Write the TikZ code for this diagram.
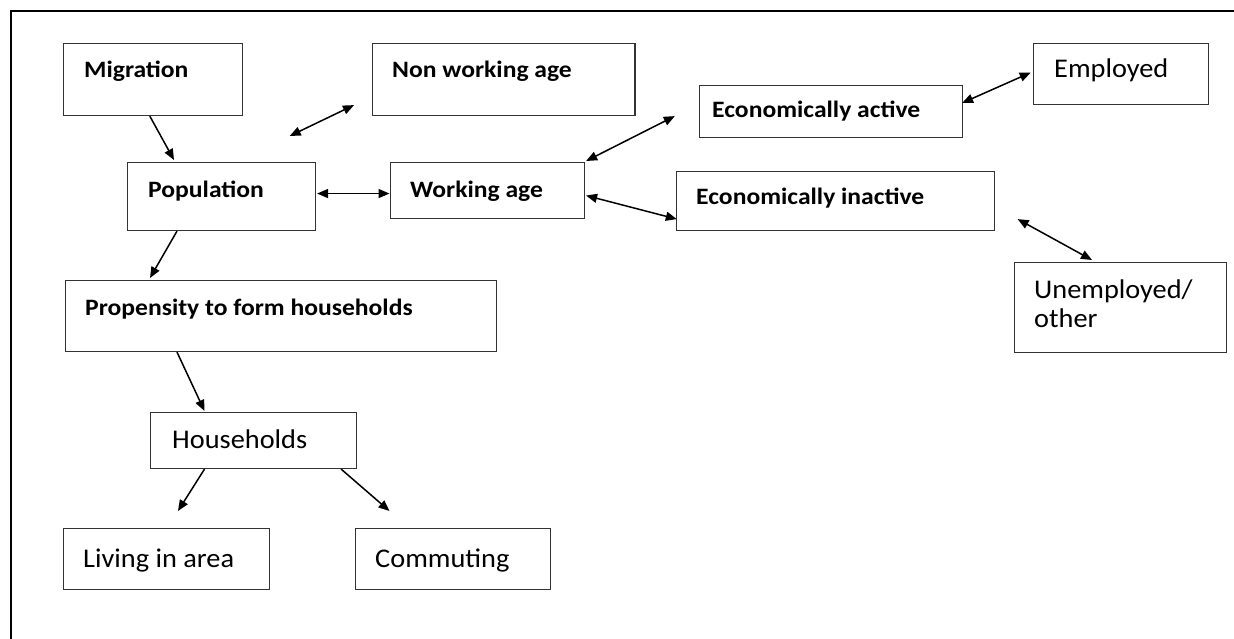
\documentclass[tikz,border=0pt]{standalone}
\usepackage{fontspec}
\setmainfont{Carlito}
\newfontfamily\smallboxfont[FakeStretch=1.09]{Carlito}
\newfontfamily\bigboxfont[FakeStretch=1.05]{Carlito}
\usetikzlibrary{arrows.meta,calc}
\begin{document}
\begin{tikzpicture}[x=1pt,y=-1pt,
  box/.style={draw=black!80,line width=1.1pt,rectangle,inner sep=0pt,anchor=north west},
  smalltxt/.style={anchor=base west,inner sep=0pt,font=\smallboxfont\bfseries\fontsize{23.5}{26}\selectfont},
  bigtxt/.style={anchor=base west,inner sep=0pt,font=\bigboxfont\fontsize{27}{29}\selectfont},
  oneway/.style={line width=1.5pt,-{Triangle[length=11pt,width=9pt]}},
  twoway/.style={line width=1.5pt,{Triangle[length=11pt,width=9pt]}-{Triangle[length=11pt,width=9pt]}},
  frame/.style={line width=2pt,black}]
\useasboundingbox (0,0) rectangle (1234,639);
% frame
\draw[frame] (10,11) -- (1234,11);
\draw[frame] (11,11) -- (11,639);
% boxes
\node[box,minimum width=179.5pt,minimum height=72pt] (mig) at (62.5,43) {};
\node[box,minimum width=262.7pt,minimum height=72pt] (nwa) at (371.7,43) {};
\node[box,minimum width=188.5pt,minimum height=68pt] (pop) at (126.5,162) {};
\node[box,minimum width=194.5pt,minimum height=56pt] (wa) at (389.5,162) {};
\node[box,minimum width=431pt,minimum height=71pt] (prop) at (64.5,280) {};
\node[box,minimum width=206.5pt,minimum height=56pt] (hh) at (149.5,412) {};
\node[box,minimum width=206.5pt,minimum height=61pt] (liv) at (62.5,528) {};
\node[box,minimum width=194.9pt,minimum height=61pt] (com) at (354.7,528) {};
\node[box,minimum width=263pt,minimum height=52pt] (ea) at (699,85) {};
\node[box,minimum width=318.7pt,minimum height=59pt] (ei) at (675.6,171) {};
\node[box,minimum width=175.1pt,minimum height=61pt] (emp) at (1032.7,43) {};
\node[box,minimum width=212pt,minimum height=90pt] (unemp) at (1014,262) {};
% texts
\node[smalltxt] (migT) at (84,78) {Migration};
\node[smalltxt] (nwaT) at (392,78) {Non working age};
\node[smalltxt] (popT) at (148,198) {Population};
\node[smalltxt] (waT) at (410,198) {Working age};
\node[smalltxt] (propT) at (85,315) {Propensity to form households};
\node[smalltxt] (eaT) at (712,118) {Economically active};
\node[smalltxt] (eiT) at (696,205) {Economically inactive};
\node[bigtxt] (hhT) at (172,448) {Households};
\node[bigtxt] (livT) at (83,567) {Living in area};
\node[bigtxt] (comT) at (375,567) {Commuting};
\node[bigtxt] (empT) at (1054,78) {Employed};
\node[bigtxt,align=left,anchor=base west] (unempT) at (1034,327) {Unemployed/\\other};
% connectors
\draw[oneway] ($(mig.south)+(-3,0)$) -- ($(pop.north west)+(47.5,-2)$);
\coordinate (popfree) at ($(pop.north east)+(-26.4,-26)$);
\coordinate (nwafree) at ($(nwa.south west)+(-17.7,-11)$);
\draw[twoway] (popfree) -- (nwafree);
\draw[twoway] ($(pop.east)+(1,-3)$) -- ($(wa.west)+(0,3)$);
\draw[oneway] ($(pop.south west)+(50.5,0)$) -- ($(prop.north west)+(85.5,-2)$);
\draw[twoway] ($(wa.north east)+(1,-1)$) -- ($(ea.south west)+(-24.2,-22)$);
\draw[twoway] ($(wa.east)+(1,5)$) -- ($(ei.south west)+(1.2,-12)$);
\draw[twoway] ($(ea.north east)+(-1,18)$) -- ($(emp.west)+(-2,-1.5)$);
\draw[twoway] ($(ei.south east)+(22.2,-12)$) -- ($(unemp.north west)+(78,-2)$);
\draw[oneway] ($(prop.south west)+(112.5,0)$) -- ($(hh.north west)+(55,-1)$);
\draw[oneway] ($(hh.south west)+(55,0)$) -- ($(liv.north west)+(115.5,-17)$);
\draw[oneway] ($(hh.south east)+(-16,0)$) -- ($(com.north west)+(34.8,-17)$);
\end{tikzpicture}
\end{document}
